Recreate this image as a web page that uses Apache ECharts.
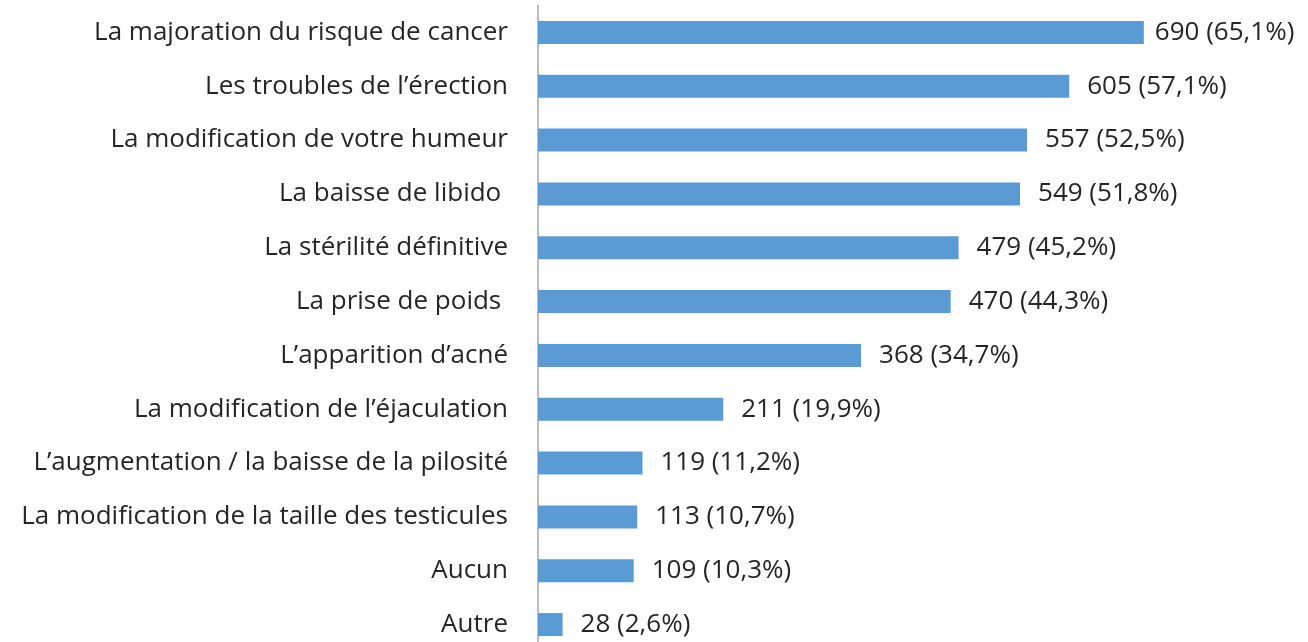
<!DOCTYPE html>
<html><head><meta charset="utf-8">
<script src="https://cdn.jsdelivr.net/npm/echarts@6/dist/echarts.min.js"></script>
<style>html,body{margin:0;padding:0;background:#fff}#c{width:1308px;height:642px}</style>
</head><body><div id="c"></div>
<script>
const categories = [
  "La majoration du risque de cancer",
  "Les troubles de l\u2019érection",
  "La modification de votre humeur",
  "La baisse de libido ",
  "La stérilité définitive",
  "La prise de poids ",
  "L\u2019apparition d\u2019acné",
  "La modification de l\u2019éjaculation",
  "L\u2019augmentation / la baisse de la pilosité",
  "La modification de la taille des testicules",
  "Aucun",
  "Autre"
];
const counts = [690, 605, 557, 549, 479, 470, 368, 211, 119, 113, 109, 28];
const percents = ["65,1%", "57,1%", "52,5%", "51,8%", "45,2%", "44,3%", "34,7%", "19,9%", "11,2%", "10,7%", "10,3%", "2,6%"];

const chart = echarts.init(document.getElementById('c'));
const FONT = '"Open Sans", sans-serif';
const barData = counts.map((v, i) => i === 0 ? { value: v, label: { distance: 11 } } : v);
chart.setOption({
  animation: false,
  grid: { left: 538, width: 702.4, top: 5.5, height: 646, containLabel: false, outerBoundsMode: 'none' },
  xAxis: { type: 'value', min: 0, max: 800, show: false },
  yAxis: {
    type: 'category', inverse: true, data: categories,
    axisLine: { show: true, lineStyle: { color: '#a6a6a6', width: 1.5 } },
    axisTick: { show: false },
    axisLabel: { margin: 30, color: '#262626', fontSize: 26, fontFamily: FONT }
  },
  series: [{
    type: 'bar', data: barData, barWidth: 23,
    itemStyle: { color: '#5b9bd5' },
    label: {
      show: true, position: 'right', distance: 18,
      color: '#262626', fontSize: 26, fontFamily: FONT,
      formatter: p => counts[p.dataIndex] + ' (' + percents[p.dataIndex] + ')'
    }
  }]
});
</script></body></html>
